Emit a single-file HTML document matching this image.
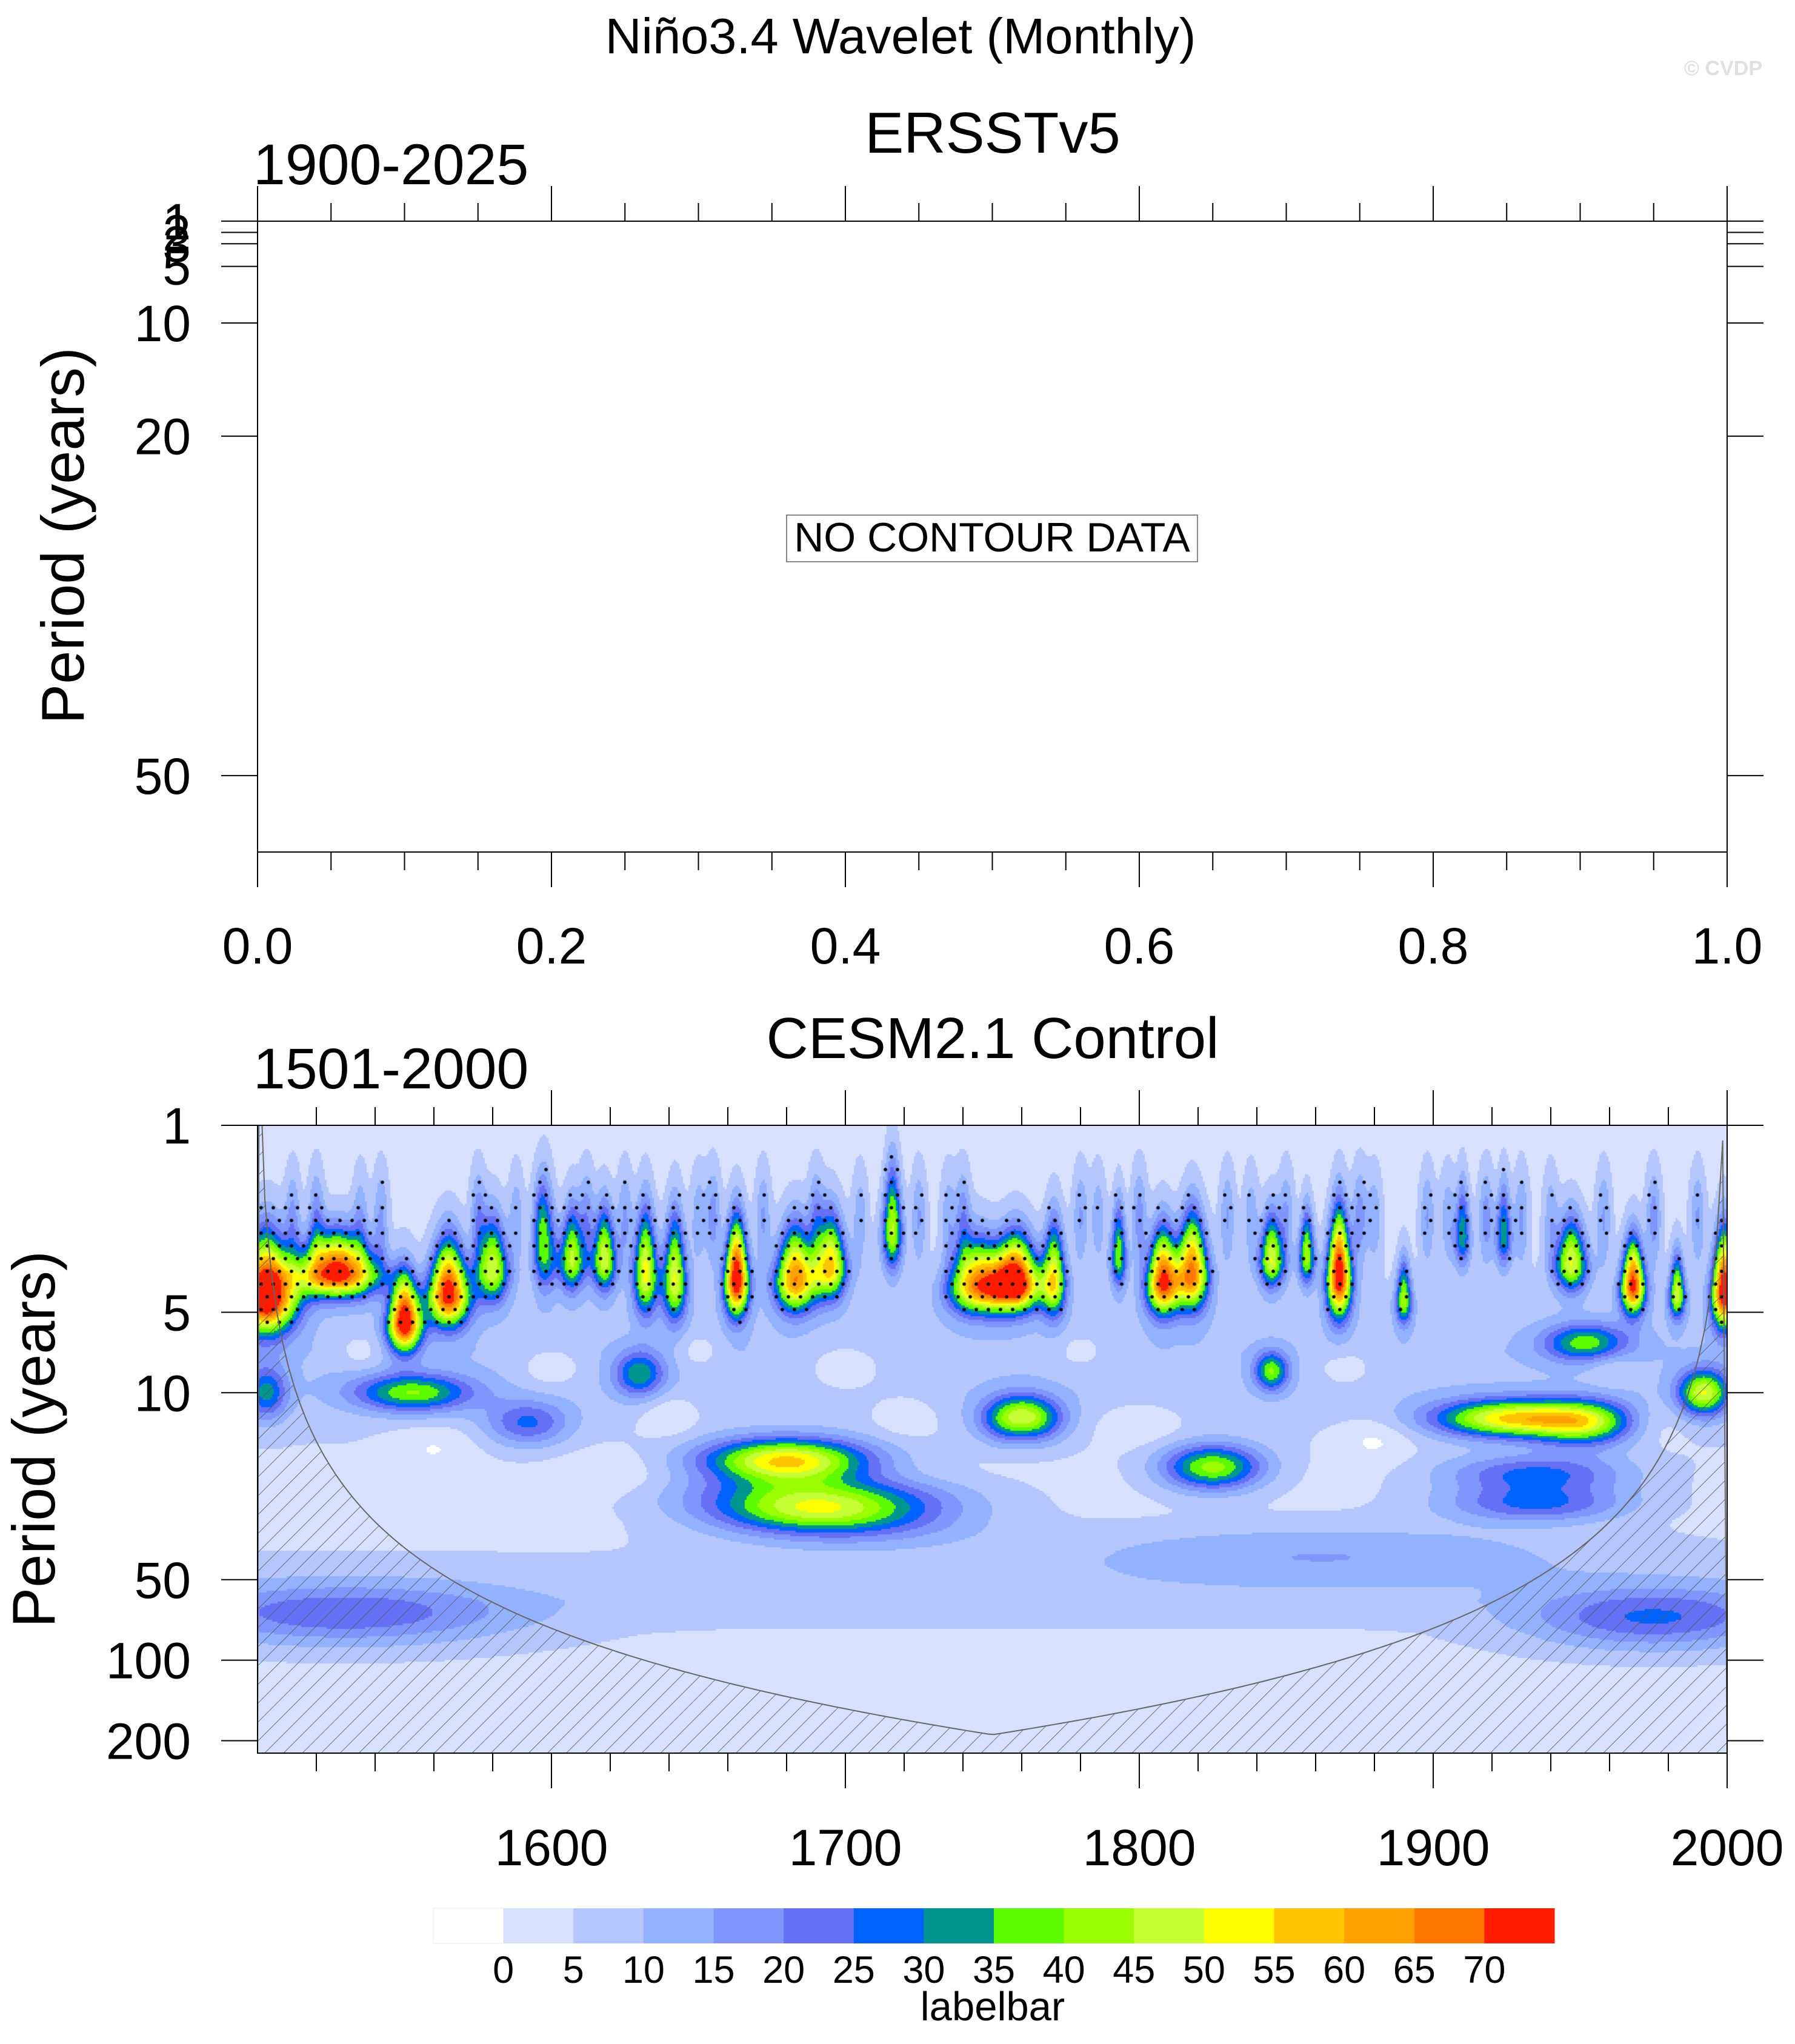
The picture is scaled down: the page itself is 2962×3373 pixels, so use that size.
<!DOCTYPE html>
<html><head><meta charset="utf-8">
<style>
html,body{margin:0;padding:0;background:#fff;}
#wrap{position:relative;width:2962px;height:3373px;overflow:hidden;font-family:"Liberation Sans",sans-serif;}
#heat{position:absolute;left:425px;top:1857px;}
#svg{position:absolute;left:0;top:0;}
</style></head>
<body>
<div id="wrap">
<canvas id="heat" width="2425" height="1036"></canvas>
<svg id="svg" width="2962" height="3373" viewBox="0 0 2962 3373" xmlns="http://www.w3.org/2000/svg">
<defs>
<pattern id="hatch" patternUnits="userSpaceOnUse" width="22" height="22" patternTransform="rotate(45)">
<line x1="0" y1="0" x2="0" y2="22" stroke="#555" stroke-width="1.6"/>
</pattern>
<clipPath id="plotclip"><rect x="425" y="1857" width="2425" height="1036"/></clipPath>
</defs>
<text x="1486" y="88" font-size="83" text-anchor="middle">Niño3.4 Wavelet (Monthly)</text>
<text x="2908" y="124" font-size="34" font-weight="bold" fill="#e0e0e0" text-anchor="end">© CVDP</text>

<text x="1638" y="252" font-size="96" text-anchor="middle">ERSSTv5</text>
<text x="418" y="304" font-size="95">1900-2025</text>
<rect x="425" y="365" width="2425" height="1041" fill="none" stroke="#000" stroke-width="2"/>
<g id="topAxes"></g>
<text x="0" y="0" font-size="99" text-anchor="middle" transform="translate(138,884) rotate(-90)">Period (years)</text>
<rect x="1298" y="850" width="678" height="77" fill="#fff" stroke="#888" stroke-width="2"/>
<text x="1637" y="910" font-size="68" text-anchor="middle">NO CONTOUR DATA</text>

<text x="1638" y="1746" font-size="96" text-anchor="middle">CESM2.1 Control</text>
<text x="418" y="1796" font-size="95">1501-2000</text>
<g id="heatOverlay" clip-path="url(#plotclip)"></g>
<rect x="425" y="1857" width="2425" height="1036" fill="none" stroke="#000" stroke-width="2"/>
<g id="botAxes"></g>
<text x="0" y="0" font-size="99" text-anchor="middle" transform="translate(90,2375) rotate(-90)">Period (years)</text>
<g id="labelbar"></g>
<text x="1638" y="3334" font-size="67" text-anchor="middle">labelbar</text>
</svg>
</div>
<script>
// ---- data ----
const topXTicks = [0.0, 0.2, 0.4, 0.6, 0.8, 1.0];
const topXTickLabels = ["0.0", "0.2", "0.4", "0.6", "0.8", "1.0"];
const topYTicks = [1, 2, 3, 5, 10, 20, 50];
const botXTicks = [1600, 1700, 1800, 1900, 2000];
const botYTicks = [1, 5, 10, 50, 100, 200];
const levelValues = [0, 5, 10, 15, 20, 25, 30, 35, 40, 45, 50, 55, 60, 65, 70];
const levelColors = ["#ffffff","#d7e1fe","#b5c6fd","#92b1fe","#7f96fd","#6670f4","#0062fe","#00968f","#5dfb00","#9afe00","#c6ff36","#fffe00","#ffc500","#ffa100","#ff7700","#ff1c00"];
// background power profile versus period
const bgPeriod = [1, 1.5, 2, 3, 4, 5, 7, 10, 14, 20, 30, 40, 50, 60, 80, 120, 230];
const bgPower  = [3, 3, 3.5, 4, 5, 7.5, 9.5, 8.5, 5.5, 3.8, 3.5, 5, 7, 7.5, 4.5, 3, 3];
// power features: year, period (yr), peak power, year width, log-period width
const blobYear   = [1503,1527,1550,1565,1580,1598,1607,1618,1632,1642,1663,1683,1695,1716,1745,1758,1771,1793,1808,1818,1845,1857,1868,1890,1910,1924,1947,1968,1983,1999,
                    1553,1630,1680,1688,1760,1825,1845,1926,1952,1952,1992,1503,1592,1690,1700,1935,1935,1530,1975,1862,
                    1600,1640,1700,1720,1780,1800,1870,1880,1960,1975,1560,1620,1535,1650,1760];
const blobPeriod = [4.4,3.6,5.5,4.3,3.5,3.0,3.2,3.2,3.6,3.8,3.8,3.8,3.4,2.5,4.0,3.9,3.8,3.1,3.9,3.6,3.2,3.1,3.7,4.5,2.6,2.6,3.3,4.0,4.3,4.2,
                    10,8.5,18,28,12.5,19,8.3,12.5,13,6.5,10,10,13,24,30,20,26,68,70,40,
                    8,12,8,12,7,13,8,15,8,13,16,20,7,7,14];
const blobPower  = [78,72,72,70,45,30,42,45,48,46,74,60,52,42,58,74,46,36,66,62,46,40,74,38,30,30,46,68,44,74,
                    32,26,52,22,46,38,32,48,34,30,42,24,20,22,18,22,22,18,20,10,
                    -7,-6,-7,-5,-6,-5,-6,-6,-6,-5,-5,-4,-6,-6,-5];
const blobYearW  = [7,10,4,5,4,3,3,3,3,3,3,5,4,2.5,7,6,3,2,4,4,3,2,3,2,2,2,4,3,2,3,
                    14,6,20,24,9,12,4,18,12,10,6,5,10,30,30,22,22,40,30,60,
                    8,7,10,8,7,10,8,9,6,8,10,12,6,6,5];
const blobPeriodW= [0.09,0.06,0.07,0.08,0.08,0.1,0.08,0.08,0.1,0.1,0.09,0.08,0.08,0.1,0.07,0.07,0.09,0.08,0.08,0.09,0.07,0.07,0.1,0.06,0.08,0.08,0.07,0.07,0.06,0.09,
                    0.05,0.06,0.06,0.05,0.06,0.06,0.05,0.05,0.06,0.05,0.06,0.07,0.06,0.05,0.07,0.05,0.05,0.08,0.08,0.08,
                    0.06,0.06,0.07,0.06,0.05,0.06,0.06,0.06,0.05,0.06,0.06,0.06,0.05,0.05,0.05];
// short-period streaks (near 2 yr)
const streakYear  = [1512,1520,1535,1542,1575,1588,1596,1612,1625,1650,1655,1672,1690,1705,1725,1735,1740,1780,1786,1800,1830,1838,1850,1875,1880,1898,1905,1918,1930,1940,1958,1975,1990];
const streakPower = [12,14,10,12,14,10,12,14,12,10,14,12,14,10,12,10,14,12,10,14,12,10,12,14,10,12,10,14,12,10,12,14,12];

// ---- helpers ----
const NS = "http://www.w3.org/2000/svg";
function mk(tag, attrs, parent, txt){
  const e = document.createElementNS(NS, tag);
  for (const k in attrs) e.setAttribute(k, attrs[k]);
  if (txt !== undefined) e.textContent = txt;
  parent.appendChild(e); return e;
}
const TOP = {x0:425, x1:2850, y0:365, y1:1406};
const BOT = {x0:425, x1:2850, y0:1857, y1:2893};
const topX = v => TOP.x0 + v*(TOP.x1-TOP.x0);
const topY = p => (161.3 + 8.7*p)*2.1464;
const botX = yr => BOT.x0 + (yr-1500)*(BOT.x1-BOT.x0)/500;
const botY = p => BOT.y0 + Math.log10(p)*441.3;
const botYinv = y => Math.pow(10,(y-BOT.y0)/441.3);
const botXinv = x => 1500 + (x-BOT.x0)*500/(BOT.x1-BOT.x0);

// ---- top axes ----
const ta = document.getElementById('topAxes');
for (let i=0;i<=20;i++){
  const v=i/20, x=topX(v), major = (i%4===0);
  let l=mk('line',{x1:x,y1:TOP.y0,x2:x,y2:TOP.y0-(major?58:30),stroke:'#000','stroke-width':2},ta);
  
  
  l=mk('line',{x1:x,y1:TOP.y1,x2:x,y2:TOP.y1+(major?58:30),stroke:'#000','stroke-width':2},ta);
  
  
}
topXTicks.forEach((v,i)=>{
  const t=mk('text',{x:topX(v),y:1590,'font-size':84,'text-anchor':'middle'},ta,topXTickLabels[i]);
  
  
});
topYTicks.forEach(p=>{
  const y=topY(p);
  let l=mk('line',{x1:TOP.x0-60,y1:y,x2:TOP.x0,y2:y,stroke:'#000','stroke-width':2},ta);
  
  
  l=mk('line',{x1:TOP.x1,y1:y,x2:TOP.x1+60,y2:y,stroke:'#000','stroke-width':2},ta);
  
  
  const t=mk('text',{x:315,y:y+30,'font-size':84,'text-anchor':'end'},ta,String(p));
  
  
});

// ---- heatmap ----
function field(yr, p){
  const lp = Math.log10(p);
  let b = bgPower[bgPower.length-1];
  for (let i=0;i<bgPeriod.length-1;i++){
    if (p>=bgPeriod[i] && p<=bgPeriod[i+1]){
      const f=(lp-Math.log10(bgPeriod[i]))/(Math.log10(bgPeriod[i+1])-Math.log10(bgPeriod[i]));
      b = bgPower[i]+(bgPower[i+1]-bgPower[i])*f; break;
    }
  }
  let v=b;
  for (let i=0;i<blobYear.length;i++){
    const lp0=Math.log10(blobPeriod[i]);
    let dy=(yr-blobYear[i])/blobYearW[i];
    let dl=(lp-lp0)/blobPeriodW[i];
    if (blobPeriod[i]<6 && lp<lp0){ dl/=1.8; dy*=1+0.6*(lp0-lp)/blobPeriodW[i]/4; }
    if (Math.abs(dy)>4 || Math.abs(dl)>4) continue;
    v += blobPower[i]*Math.exp(-0.5*(dy*dy+dl*dl));
  }
  for (let i=0;i<streakYear.length;i++){
    const dy=(yr-streakYear[i])/1.8;
    if (Math.abs(dy)>4) continue;
    const dl=(lp-Math.log10(2.2))/0.13;
    v += streakPower[i]*Math.exp(-0.5*(dy*dy+dl*dl));
  }
  return v;
}
function level(v){ if (v<0) return 0; return Math.min(15, Math.floor(v/5)+1); }
const cv=document.getElementById('heat'), ctx=cv.getContext('2d');
const step=3;
for (let py=0; py<cv.height; py+=step){
  const p = botYinv(BOT.y0+py+step/2);
  for (let px=0; px<cv.width; px+=step){
    const yr = botXinv(BOT.x0+px+step/2);
    ctx.fillStyle = levelColors[level(field(yr,p))];
    ctx.fillRect(px,py,step,step);
  }
}
// stippling where power significant at short periods
ctx.fillStyle='#000';
for (let py=10; py<cv.height; py+=21){
  const p = botYinv(BOT.y0+py);
  if (p>5.6) break;
  const off = (Math.round(py/21)%2)*10;
  for (let px=6+off; px<cv.width; px+=20){
    const yr = botXinv(BOT.x0+px);
    if (field(yr,p)>4+3.5*p){ ctx.beginPath(); ctx.arc(px,py,2.8,0,6.3); ctx.fill(); }
  }
}

// cone of influence
const ov=document.getElementById('heatOverlay');
let d='M'+BOT.x0+','+BOT.y1;
for (let yr=1500.5; yr<=2000; yr+=2){
  const dist=Math.min(yr-1500,2000-yr);
  const per=Math.max(0.5, 0.76*dist);
  d+=' L'+botX(yr).toFixed(1)+','+Math.min(BOT.y1,botY(per)).toFixed(1);
}
d+=' L'+BOT.x1+','+BOT.y1+' Z';
let coi=mk('path',{d:d,fill:'url(#hatch)',stroke:'#666','stroke-width':2},ov);



// ---- bottom axes ----
const ba=document.getElementById('botAxes');
for (let yr=1500; yr<=2000; yr+=20){
  const x=botX(yr), major=(yr%100===0);
  if (yr===1500) continue;
  let l=mk('line',{x1:x,y1:BOT.y0,x2:x,y2:BOT.y0-(major?58:30),stroke:'#000','stroke-width':2},ba);
  
  
  l=mk('line',{x1:x,y1:BOT.y1,x2:x,y2:BOT.y1+(major?58:30),stroke:'#000','stroke-width':2},ba);
  
  
}
botXTicks.forEach(yr=>{
  const t=mk('text',{x:botX(yr),y:3078,'font-size':84,'text-anchor':'middle'},ba,String(yr));
  
  
});
botYTicks.forEach(p=>{
  const y=botY(p);
  let l=mk('line',{x1:BOT.x0-60,y1:y,x2:BOT.x0,y2:y,stroke:'#000','stroke-width':2},ba);
  
  
  l=mk('line',{x1:BOT.x1,y1:y,x2:BOT.x1+60,y2:y,stroke:'#000','stroke-width':2},ba);
  
  
  const t=mk('text',{x:315,y:y+30,'font-size':84,'text-anchor':'end'},ba,String(p));
  
  
});

// ---- labelbar ----
const lb=document.getElementById('labelbar');
const LB={x0:715,x1:2565,y0:3149,y1:3207};
const bw=(LB.x1-LB.x0)/levelColors.length;
levelColors.forEach((c,i)=>{
  const r=mk('rect',{x:LB.x0+i*bw,y:LB.y0,width:bw+0.5,height:LB.y1-LB.y0,fill:c,stroke:c==='#ffffff'?'#eee':'none'},lb);
  
  
});
levelValues.forEach((v,i)=>{
  const t=mk('text',{x:LB.x0+(i+1)*bw,y:3272,'font-size':63,'text-anchor':'middle'},lb,String(v));
  
  
});
</script>
</body></html>
